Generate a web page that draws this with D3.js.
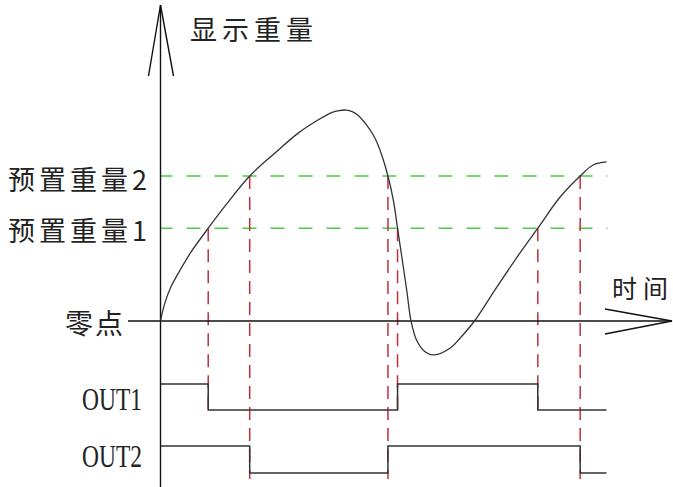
<!DOCTYPE html>
<html>
<head>
<meta charset="utf-8">
<script src="https://cdn.jsdelivr.net/npm/d3@7"></script>
<style>
  html, body { margin: 0; padding: 0; background: #fff; }
  svg { display: block; }
</style>
</head>
<body>
<svg id="chart" width="673" height="487"></svg>
<script>
// ---- data ----
const timeValues   = [0, 0.94, 2.4, 4.7, 6.9, 10.7, 14.4, 20, 25.6, 30.8, 35.3, 38.5, 40, 41.6, 43, 44.2, 46.2, 48.1, 49.6, 51, 52.2, 53.15, 54.1, 55.2, 56.2, 57.4, 59.3, 61.3, 64.9, 67.2, 70.4, 75.4, 80.6, 84.6, 89.6, 94.1, 97, 100];
const weightValues = [0, 12, 23.9, 36.7, 47.8, 64, 79, 100, 115.7, 129.4, 138.6, 143.9, 145.1, 145.5, 144.4, 142.1, 135.2, 126, 114.5, 100, 83.4, 64, 44.3, 21.4, -0.5, -13.1, -21.2, -23.4, -18.8, -11.7, 0, 23.4, 46.9, 64, 85.5, 100, 107.6, 109.7];

const presetNames  = ["预置重量1", "预置重量2"];
const presetValues = [64, 100];
const zeroLabel = "零点";
const yAxisTitle = "显示重量";
const xAxisTitle = "时间";

// switching times (curve crossing the preset levels)
const out1Times  = [0, 10.7, 53.15, 84.6, 100];
const out1Levels = [1, 0, 1, 0, 0];
const out2Times  = [0, 20, 51, 94.1, 100];
const out2Levels = [1, 0, 1, 0, 0];
const outNames = ["OUT1", "OUT2"];

// ---- scales ----
const svg = d3.select("#chart");
const x = d3.scaleLinear().domain([0, 100]).range([160.5, 606.5]);
const y = d3.scaleLinear().domain([0, 100]).range([321, 176]);
const yOut1 = d3.scaleLinear().domain([0, 1]).range([410, 384]);
const yOut2 = d3.scaleLinear().domain([0, 1]).range([473, 446]);

const curveData = timeValues.map((t, i) => ({ t, w: weightValues[i] }));

// ---- green preset dashed lines ----
svg.append("g").selectAll("line").data(presetValues).join("line")
  .attr("x1", x(0)).attr("x2", x(100) + 1)
  .attr("y1", d => y(d)).attr("y2", d => y(d))
  .attr("stroke", "#4ccc44").attr("stroke-width", 1.6)
  .attr("stroke-dasharray", "14,14").attr("stroke-dashoffset", 2);

// ---- red dashed verticals ----
const reds = [];
out1Times.slice(1, 4).forEach(t => reds.push({ t, w: presetValues[0], bottom: yOut1(0) }));
out2Times.slice(1, 4).forEach(t => reds.push({ t, w: presetValues[1], bottom: yOut2(0) + 6 }));
svg.append("g").selectAll("line").data(reds).join("line")
  .attr("x1", d => x(d.t)).attr("x2", d => x(d.t))
  .attr("y1", d => y(d.w)).attr("y2", d => d.bottom)
  .attr("stroke", "#c0303c").attr("stroke-width", 1.5)
  .attr("stroke-dasharray", "13,8");

// ---- axes ----
const axisG = svg.append("g").attr("stroke", "#111").attr("stroke-width", 1.4).attr("fill", "none");
axisG.append("line").attr("x1", x(0)).attr("x2", x(0)).attr("y1", 5).attr("y2", 487);
axisG.append("path").attr("d", `M${x(0) - 12},76 L${x(0)},5 L${x(0) + 13},76`);
axisG.append("line").attr("x1", 128).attr("x2", 672).attr("y1", y(0)).attr("y2", y(0));
axisG.append("path").attr("d", `M605,309 L672,${y(0)} L605,334`);

// ---- weight curve ----
const line = d3.line().x(d => x(d.t)).y(d => y(d.w)).curve(d3.curveCatmullRom.alpha(0.5));
svg.append("path").datum(curveData)
  .attr("d", line).attr("fill", "none")
  .attr("stroke", "#333").attr("stroke-width", 1.3);

// ---- OUT step signals ----
const stepLine = (sy) => d3.line().x(d => x(d.t)).y(d => sy(d.v)).curve(d3.curveStepAfter);
const out1 = out1Times.map((t, i) => ({ t, v: out1Levels[i] }));
const out2 = out2Times.map((t, i) => ({ t, v: out2Levels[i] }));
svg.append("path").datum(out1).attr("d", stepLine(yOut1))
  .attr("fill", "none").attr("stroke", "#333").attr("stroke-width", 1.5);
svg.append("path").datum(out2).attr("d", stepLine(yOut2))
  .attr("fill", "none").attr("stroke", "#333").attr("stroke-width", 1.5);

// ---- text ----
const cjk = "'Noto Sans CJK SC', 'Noto Sans CJK JP', sans-serif";
function label(txt, xStart, cy, size, len) {
  svg.append("text").text(txt)
    .attr("x", xStart).attr("y", cy)
    .attr("dominant-baseline", "central")
    .attr("font-family", cjk).attr("font-size", size)
    .attr("fill", "#222")
    .attr("textLength", len).attr("lengthAdjust", "spacing");
}
label(yAxisTitle, 190, 28.5, 27, 123);
label(presetNames[1], 8, y(presetValues[1]) + 2, 27, 139);
label(presetNames[0], 8, y(presetValues[0]) + 1.5, 27, 139);
label(zeroLabel, 65, y(0) + 0.5, 28, 58);
label(xAxisTitle, 612, 286.5, 25, 56);

svg.append("g").selectAll("text").data(outNames).join("text")
  .text(d => d)
  .attr("x", 82)
  .attr("y", (d, i) => i === 0 ? 410 : 467)
  .attr("font-family", "'Liberation Serif', serif")
  .attr("font-size", 32)
  .attr("fill", "#222")
  .attr("textLength", 60).attr("lengthAdjust", "spacingAndGlyphs");
</script>
</body>
</html>
